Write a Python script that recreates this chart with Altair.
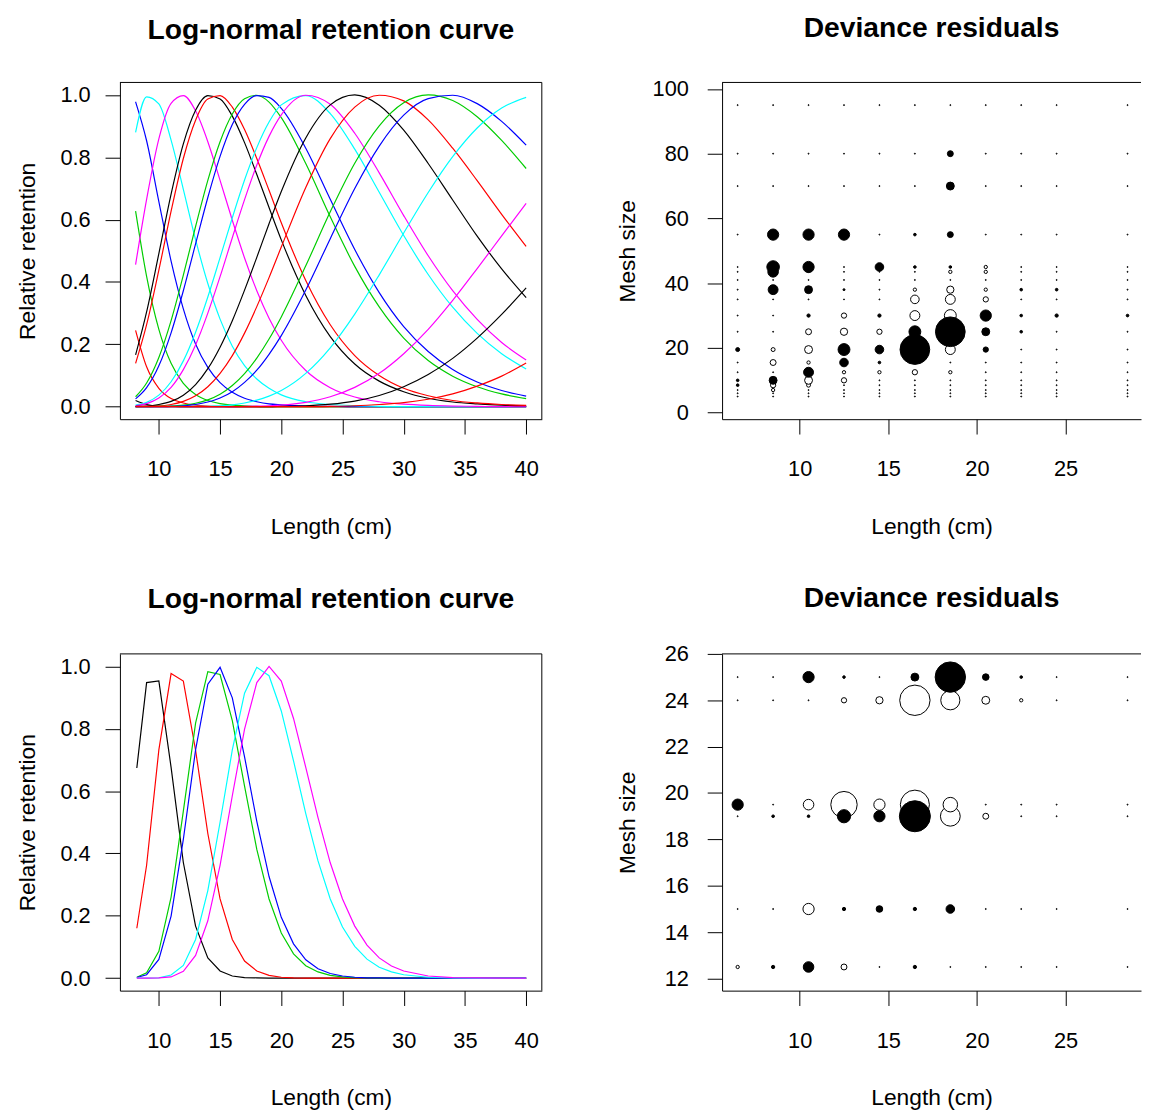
import altair as alt
import pandas as pd

FONT = "Liberation Sans"

# ---------------- retention curves (top-left) ----------------
TOP_LENGTHS = [8.1, 9, 10, 11, 12, 13, 14, 15, 16, 17, 18, 19, 20, 22, 24, 26, 28, 30, 32, 34, 36, 38, 40]
TOP_COLORS = ["#000000", "#FF0000", "#00CD00", "#0000FF", "#00FFFF", "#FF00FF",
              "#000000", "#FF0000", "#00CD00", "#0000FF", "#00FFFF", "#FF00FF",
              "#000000", "#FF0000", "#00CD00", "#0000FF", "#00FFFF", "#FF00FF",
              "#000000", "#FF0000"]
TOP_RETENTION = [
    [0.020, 0.007, 0.002, 0.001, 0, 0, 0, 0, 0, 0, 0, 0, 0, 0, 0, 0, 0, 0, 0, 0, 0, 0, 0],
    [0.245, 0.128, 0.059, 0.026, 0.012, 0.005, 0.002, 0.001, 0, 0, 0, 0, 0, 0, 0, 0, 0, 0, 0, 0, 0, 0, 0],
    [0.627, 0.418, 0.248, 0.139, 0.075, 0.039, 0.020, 0.010, 0.005, 0.003, 0.001, 0, 0, 0, 0, 0, 0, 0, 0, 0, 0, 0, 0],
    [0.978, 0.853, 0.658, 0.467, 0.314, 0.201, 0.126, 0.077, 0.046, 0.027, 0.016, 0.009, 0.006, 0.002, 0.001, 0, 0, 0, 0, 0, 0, 0, 0],
    [0.880, 0.994, 0.971, 0.855, 0.697, 0.536, 0.395, 0.281, 0.194, 0.132, 0.089, 0.059, 0.038, 0.016, 0.007, 0.003, 0.001, 0, 0, 0, 0, 0, 0],
    [0.456, 0.665, 0.859, 0.973, 0.998, 0.949, 0.850, 0.726, 0.598, 0.477, 0.372, 0.284, 0.213, 0.116, 0.061, 0.031, 0.016, 0.008, 0.004, 0.002, 0.001, 0, 0],
    [0.166, 0.304, 0.491, 0.682, 0.843, 0.951, 0.998, 0.987, 0.932, 0.847, 0.745, 0.639, 0.535, 0.357, 0.225, 0.137, 0.082, 0.048, 0.027, 0.015, 0.009, 0.005, 0.003],
    [0.139, 0.263, 0.438, 0.627, 0.796, 0.919, 0.987, 0.998, 0.961, 0.889, 0.796, 0.694, 0.590, 0.405, 0.263, 0.164, 0.100, 0.059, 0.035, 0.020, 0.012, 0.007, 0.004],
    [0.032, 0.076, 0.158, 0.276, 0.422, 0.578, 0.726, 0.850, 0.939, 0.988, 0.999, 0.977, 0.927, 0.780, 0.609, 0.450, 0.320, 0.220, 0.148, 0.098, 0.064, 0.041, 0.026],
    [0.025, 0.061, 0.131, 0.237, 0.372, 0.522, 0.671, 0.803, 0.905, 0.970, 0.998, 0.992, 0.957, 0.829, 0.665, 0.504, 0.366, 0.257, 0.177, 0.119, 0.079, 0.052, 0.034],
    [0.005, 0.014, 0.037, 0.080, 0.147, 0.239, 0.352, 0.478, 0.606, 0.727, 0.831, 0.913, 0.968, 0.998, 0.940, 0.826, 0.688, 0.549, 0.424, 0.319, 0.235, 0.170, 0.121],
    [0.003, 0.010, 0.028, 0.062, 0.119, 0.198, 0.300, 0.417, 0.542, 0.664, 0.775, 0.867, 0.936, 0.999, 0.970, 0.877, 0.750, 0.613, 0.484, 0.372, 0.280, 0.206, 0.150],
    [0.001, 0.002, 0.007, 0.017, 0.037, 0.071, 0.122, 0.191, 0.276, 0.374, 0.479, 0.587, 0.690, 0.862, 0.968, 1.000, 0.967, 0.887, 0.780, 0.663, 0.547, 0.442, 0.350],
    [0, 0.001, 0.002, 0.007, 0.017, 0.035, 0.064, 0.107, 0.164, 0.236, 0.321, 0.414, 0.512, 0.703, 0.860, 0.961, 0.999, 0.981, 0.920, 0.829, 0.725, 0.617, 0.514],
    [0, 0, 0.001, 0.002, 0.005, 0.011, 0.022, 0.040, 0.068, 0.106, 0.156, 0.217, 0.288, 0.452, 0.625, 0.781, 0.901, 0.975, 1.000, 0.982, 0.930, 0.854, 0.764],
    [0, 0, 0, 0.001, 0.003, 0.007, 0.015, 0.028, 0.048, 0.078, 0.117, 0.168, 0.228, 0.374, 0.539, 0.700, 0.836, 0.935, 0.988, 0.999, 0.972, 0.915, 0.839],
    [0, 0, 0, 0, 0, 0.001, 0.001, 0.003, 0.006, 0.012, 0.021, 0.034, 0.052, 0.107, 0.189, 0.297, 0.423, 0.557, 0.687, 0.802, 0.894, 0.958, 0.992],
    [0, 0, 0, 0, 0, 0, 0, 0, 0, 0.001, 0.002, 0.003, 0.005, 0.014, 0.032, 0.062, 0.107, 0.170, 0.248, 0.341, 0.443, 0.548, 0.652],
    [0, 0, 0, 0, 0, 0, 0, 0, 0, 0, 0, 0, 0.001, 0.003, 0.008, 0.018, 0.036, 0.064, 0.103, 0.155, 0.220, 0.296, 0.381],
    [0, 0, 0, 0, 0, 0, 0, 0, 0, 0, 0, 0, 0, 0, 0.001, 0.003, 0.007, 0.013, 0.024, 0.041, 0.066, 0.098, 0.140],
]

# ---------------- retention curves (bottom-left) ----------------
BOT_LENGTHS = [8.2, 9, 10, 11, 12, 13, 14, 15, 16, 17, 18, 19, 20, 21, 22, 23, 24, 25, 26, 27, 28, 29, 30,
               32, 34, 36, 38, 40]
BOT_COLORS = ["#000000", "#FF0000", "#00CD00", "#0000FF", "#00FFFF", "#FF00FF"]
BOT_RETENTION = [
    [0.674, 0.948, 0.953, 0.676, 0.371, 0.167, 0.065, 0.023, 0.007, 0.002, 0.001, 0, 0, 0, 0, 0, 0, 0, 0, 0, 0, 0, 0, 0, 0, 0, 0, 0],
    [0.160, 0.362, 0.732, 0.977, 0.953, 0.731, 0.464, 0.254, 0.124, 0.055, 0.023, 0.009, 0.003, 0.001, 0, 0, 0, 0, 0, 0, 0, 0, 0, 0, 0, 0, 0, 0],
    [0.003, 0.017, 0.086, 0.260, 0.536, 0.818, 0.983, 0.974, 0.826, 0.616, 0.413, 0.254, 0.145, 0.078, 0.040, 0.020, 0.009, 0.004, 0.002, 0.001, 0, 0, 0, 0, 0, 0, 0, 0],
    [0.002, 0.011, 0.060, 0.199, 0.445, 0.732, 0.943, 0.997, 0.899, 0.710, 0.503, 0.326, 0.195, 0.110, 0.059, 0.030, 0.015, 0.007, 0.003, 0.001, 0.001, 0, 0, 0, 0, 0, 0, 0],
    [0, 0, 0.001, 0.010, 0.041, 0.124, 0.281, 0.500, 0.732, 0.914, 0.997, 0.970, 0.857, 0.697, 0.528, 0.376, 0.254, 0.164, 0.102, 0.061, 0.035, 0.020, 0.011, 0.003, 0.001, 0, 0, 0],
    [0, 0, 0.001, 0.004, 0.022, 0.073, 0.184, 0.362, 0.585, 0.799, 0.948, 1.000, 0.953, 0.833, 0.676, 0.515, 0.370, 0.254, 0.167, 0.106, 0.065, 0.039, 0.023, 0.007, 0.002, 0.001, 0, 0],
]

# ---------------- deviance residuals ----------------
RES_LENGTHS = [6.5, 8.5, 10.5, 12.5, 14.5, 16.5, 18.5, 20.5, 22.5, 24.5, 28.5]
TOP_MESH = [5, 6, 7, 8.5, 10, 12.5, 15.5, 19.5, 25, 30, 35, 38, 41, 43.5, 45, 55, 70, 80, 95]
t = 0.15
TOP_RESID = [
    [t, t, t, t, t, t, t, t, t, t, t],
    [t, t, t, t, t, t, t, t, t, t, t],
    [t, -0.5, t, t, t, t, t, t, t, t, t],
    [0.4, -0.8, -0.6, t, t, t, t, t, t, t, t],
    [0.4, 1.2, -1.2, -0.8, t, t, t, t, t, t, t],
    [t, t, 1.5, -0.5, -0.5, -0.8, -0.5, t, t, t, t],
    [t, -0.9, -0.5, 1.3, 0.4, t, t, t, t, t, t],
    [0.6, -0.6, -1.2, 1.8, 1.3, 4.5, -1.5, 0.8, t, t, t],
    [t, t, -0.9, -1.1, -0.8, 1.8, 4.5, 1.2, 0.4, t, t],
    [t, t, 0.5, -0.8, 0.5, -1.5, -1.8, 1.7, 0.4, 0.5, 0.4],
    [t, t, t, t, t, -1.3, -1.5, -0.8, t, t, t],
    [t, 1.5, 1.2, 0.3, t, -0.5, -1.1, -0.5, 0.4, 0.4, t],
    [t, t, t, t, t, t, t, t, t, t, t],
    [t, 1.6, t, t, t, t, -0.5, -0.5, t, t, t],
    [t, 1.9, 1.7, t, 1.3, 0.4, 0.4, -0.5, t, t, t],
    [t, 1.7, 1.7, 1.7, t, 0.4, 0.9, t, t, t, t],
    [t, t, t, t, t, t, 1.2, t, t, t, t],
    [t, t, t, t, t, t, 0.9, t, t, t, t],
    [t, t, t, t, t, t, t, t, t, t, t],
]
BOT_MESH = [12.5, 15, 19, 19.5, 24, 25]
BOT_RESID = [
    [-0.5, 0.5, 1.6, -0.9, t, 0.5, t, t, t, t, t],
    [t, t, -1.7, 0.5, 1.0, 0.5, 1.3, t, t, t, t],
    [t, 0.4, 0.4, 2.0, 1.7, 4.7, -3.0, -0.9, t, t, t],
    [1.7, t, -1.6, -4.0, -1.7, -4.4, -2.2, t, t, t, t],
    [t, t, t, -0.8, -1.1, -4.6, -2.9, -1.2, -0.5, t, t],
    [t, t, 1.7, 0.4, t, 1.2, 4.6, 1.0, 0.4, t, t],
]

# ---------------- geometry / style ----------------
WL, WR, H = 426, 423, 340
TICK = 15
LAB = 22
TIT = 23
MAIN = 28.5


def curves_df(lengths, curves):
    recs = []
    for i, ys in enumerate(curves):
        for x, y in zip(lengths, ys):
            recs.append({"length": x, "retention": y, "curve": f"c{i + 1:02d}"})
    return pd.DataFrame(recs)


def bubbles_df(lengths, meshes, table):
    recs = []
    for m, row in zip(meshes, table):
        for L, r in zip(lengths, row):
            recs.append({"length": L, "mesh": m, "res": r, "mag": abs(r)})
    return pd.DataFrame(recs)


def frame(width, right):
    base = alt.Chart(pd.DataFrame({"k": [0]}))
    layers = [base.mark_rule(color="black", strokeWidth=1).encode(
        x=alt.value(0), x2=alt.value(width), y=alt.value(0))]
    if right:
        layers.append(base.mark_rule(color="black", strokeWidth=1).encode(
            x=alt.value(width), y=alt.value(0), y2=alt.value(H)))
    return layers


def title(text, offset):
    return alt.TitleParams(text=text, font=FONT, fontSize=MAIN, fontWeight="bold",
                           color="black", anchor="middle", frame="group",
                           baseline="alphabetic", offset=offset)


def curve_panel(lengths, curves, colors, interp, toff):
    df = curves_df(lengths, curves)
    names = [f"c{i + 1:02d}" for i in range(len(curves))]
    lines = alt.Chart(df).mark_line(strokeWidth=1.2, interpolate=interp, clip=True).encode(
        x=alt.X("length:Q",
                scale=alt.Scale(domain=[6.82, 41.28], nice=False, zero=False),
                axis=alt.Axis(values=[10, 15, 20, 25, 30, 35, 40], format="d",
                              title="Length (cm)", labelPadding=25, titlePadding=36)),
        y=alt.Y("retention:Q",
                scale=alt.Scale(domain=[-0.04, 1.04], nice=False, zero=False),
                axis=alt.Axis(values=[0, 0.2, 0.4, 0.6, 0.8, 1.0], format=".1f",
                              title="Relative retention", labelPadding=15, titlePadding=21)),
        color=alt.Color("curve:N", scale=alt.Scale(domain=names, range=colors), legend=None),
    )
    return alt.layer(lines, *frame(WL, True)).properties(
        width=WL, height=H, title=title("Log-normal retention curve", toff))


def bubble_panel(meshes, table, ydomain, yvalues, toff, ytp):
    df = bubbles_df(RES_LENGTHS, meshes, table)
    xenc = alt.X("length:Q",
                 scale=alt.Scale(domain=[5.62, 29.26], nice=False, zero=False),
                 axis=alt.Axis(values=[10, 15, 20, 25], format="d",
                               title="Length (cm)", labelPadding=25, titlePadding=36))
    yenc = alt.Y("mesh:Q",
                 scale=alt.Scale(domain=ydomain, nice=False, zero=False),
                 axis=alt.Axis(values=yvalues, format="d",
                               title="Mesh size", labelPadding=19, titlePadding=ytp))
    size = alt.Size("mag:Q", scale=alt.Scale(type="pow", exponent=2, domain=[0, 4.5],
                                             range=[0, 900]), legend=None)
    neg = alt.Chart(df).transform_filter("datum.res < 0").mark_point(
        shape="circle", filled=True, fill="white", stroke="black", strokeWidth=1,
        opacity=1, fillOpacity=1).encode(x=xenc, y=yenc, size=size)
    pos = alt.Chart(df).transform_filter("datum.res > 0").mark_point(
        shape="circle", filled=True, fill="black", stroke="black", strokeWidth=1,
        opacity=1, fillOpacity=1).encode(x=xenc, y=yenc, size=size)
    return alt.layer(neg, pos, *frame(WR, False)).properties(
        width=WR, height=H, title=title("Deviance residuals", toff))


tl = curve_panel(TOP_LENGTHS, TOP_RETENTION, TOP_COLORS, "monotone", 15)
bl = curve_panel(BOT_LENGTHS, BOT_RETENTION, BOT_COLORS, "linear", 17.3)
tr = bubble_panel(TOP_MESH, TOP_RESID, [-2, 102], [0, 20, 40, 60, 80, 100], 12.6, 13)
br = bubble_panel(BOT_MESH, BOT_RESID, [11.48, 26.0], [12, 14, 16, 18, 20, 22, 24, 26], 7.9, 25)

chart = alt.vconcat(
    alt.hconcat(tl, tr, spacing=74),
    alt.hconcat(bl, br, spacing=74),
    spacing=46,
).properties(
    padding={"left": 8, "top": 0.8, "right": 0, "bottom": 0},
    background="white",
).configure_view(stroke=None).configure_axis(
    domainColor="black", domainWidth=1, tickColor="black", tickWidth=1, tickSize=TICK,
    labelFont=FONT, labelFontSize=LAB, labelColor="black", labelFlush=False,
    titleFont=FONT, titleFontSize=TIT, titleFontWeight="normal", titleColor="black",
    grid=False,
)

chart.save("out.html", embed_options={"renderer": "svg", "actions": False})
